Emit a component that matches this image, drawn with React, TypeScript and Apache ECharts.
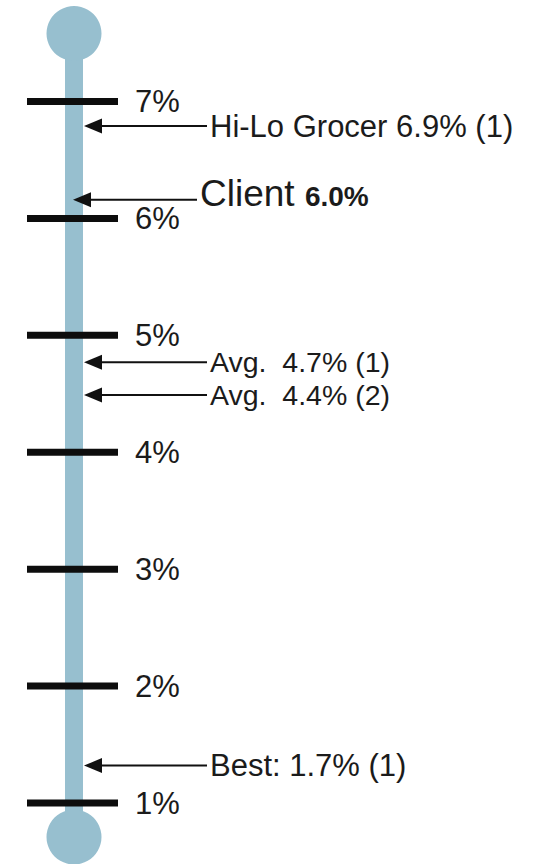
import React, { useEffect, useRef } from "react";
import * as echarts from "echarts";

// Scale ticks (percent)
const tickValues = [1, 2, 3, 4, 5, 6, 7];
// Pointers shown on the thermometer
const pointerNames = ["Hi-Lo Grocer", "Client", "Avg. ", "Avg. ", "Best:"];
const pointerValues = [6.9, 6.0, 4.7, 4.4, 1.7];
const pointerRefs = ["(1)", "", "(1)", "(2)", "(1)"];
// Level on the drawn scale where each arrow points
const pointerLevels = [6.79, 6.16, 4.77, 4.49, 1.32];

const FONT = '"Liberation Sans", Arial, sans-serif';
const TEXT = "#1b1b1b";
const STEM = "#97bfcf";

export default function App() {
  const ref = useRef<HTMLDivElement>(null);
  useEffect(() => {
    if (!ref.current) return;
    const chart = echarts.init(ref.current, null, { renderer: "svg" });
    const scaleMin = tickValues[0];
    const scaleMax = tickValues[tickValues.length - 1];
    const option: any = {
      animation: false,
      backgroundColor: "#ffffff",
      grid: { left: 27, width: 91, top: 101.5, bottom: 61, containLabel: false },
      xAxis: { type: "value", min: -47, max: 44, show: false },
      yAxis: {
        type: "value",
        min: scaleMin,
        max: scaleMax,
        interval: 1,
        position: "right",
        axisLine: { show: false },
        axisTick: { show: false },
        splitLine: { show: false },
        axisLabel: {
          formatter: "{value}%",
          fontSize: 31,
          fontFamily: FONT,
          color: TEXT,
          margin: 17,
        },
      },
      series: [
        {
          type: "custom",
          z: 1,
          silent: true,
          encode: { x: 0, y: [1, 2] },
          data: [[0, scaleMin, scaleMax]],
          renderItem: (params: any, api: any) => {
            const top = api.coord([api.value(0), api.value(2)]);
            const bot = api.coord([api.value(0), api.value(1)]);
            const cx = top[0];
            const topY = top[1] - 68;
            const botY = bot[1] + 34;
            return {
              type: "group",
              children: [
                { type: "rect", shape: { x: cx - 9, y: topY, width: 18, height: botY - topY }, style: { fill: STEM } },
                { type: "circle", shape: { cx, cy: topY, r: 27.5 }, style: { fill: STEM } },
                { type: "circle", shape: { cx, cy: botY, r: 27.5 }, style: { fill: STEM } },
              ],
            };
          },
        },
        {
          type: "custom",
          z: 3,
          silent: true,
          data: tickValues.map((v) => [0, v]),
          renderItem: (params: any, api: any) => {
            const p = api.coord([api.value(0), api.value(1)]);
            const cs = params.coordSys;
            return {
              type: "rect",
              shape: { x: cs.x, y: p[1] - 3.5, width: cs.width, height: 7 },
              style: { fill: "#0d0d0d" },
            };
          },
        },
        {
          type: "custom",
          z: 4,
          silent: true,
          data: pointerLevels.map((lvl, i) => [0, lvl, i]),
          renderItem: (params: any, api: any) => {
            const i = api.value(2);
            const p = api.coord([api.value(0), api.value(1)]);
            const cx = p[0];
            const cy = p[1];
            const isClient = pointerNames[i] === "Client";
            const tipX = cx + (isClient ? -1 : 10);
            const textX = cx + (isClient ? 126 : 136);
            const headLen = 18;
            const headHalf = 7.5;
            const valueStr = pointerValues[i].toFixed(1) + "%";
            const text = isClient
              ? `{a|${pointerNames[i]} }{b|${valueStr}}`
              : `${pointerNames[i]} ${valueStr}${pointerRefs[i] ? " " + pointerRefs[i] : ""}`;
            const isAvg = pointerNames[i].startsWith("Avg");
            return {
              type: "group",
              children: [
                {
                  type: "line",
                  shape: { x1: tipX + headLen - 1, y1: cy, x2: textX - 3, y2: cy },
                  style: { stroke: "#111", lineWidth: 2 },
                },
                {
                  type: "polygon",
                  shape: { points: [[tipX, cy], [tipX + headLen, cy - headHalf], [tipX + headLen, cy + headHalf]] },
                  style: { fill: "#111" },
                },
                {
                  type: "text",
                  x: textX,
                  y: cy + (isClient ? -6 : 0),
                  style: {
                    text,
                    fill: TEXT,
                    fontSize: isAvg ? 28.5 : 31,
                    fontFamily: FONT,
                    align: "left",
                    verticalAlign: "middle",
                    rich: isClient
                      ? {
                          a: { fontSize: 37, fontFamily: FONT, fill: TEXT, verticalAlign: "bottom" },
                          b: {
                            fontSize: 28,
                            fontWeight: "bold",
                            fontFamily: FONT,
                            fill: TEXT,
                            verticalAlign: "bottom",
                            padding: [0, 0, 2, 0],
                          },
                        }
                      : undefined,
                  },
                },
              ],
            };
          },
        },
      ],
    };
    chart.setOption(option);
    return () => chart.dispose();
  }, []);
  return (
    <div
      ref={ref}
      style={{ position: "fixed", left: 0, top: 0, width: 538, height: 864, background: "#fff" }}
    />
  );
}
